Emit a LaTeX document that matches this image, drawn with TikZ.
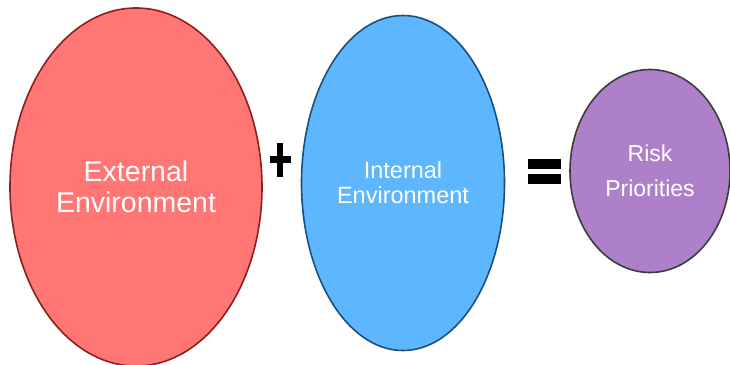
\documentclass[tikz,border=0pt]{standalone}
\usepackage{fontspec}
\setmainfont{Liberation Sans}
\usetikzlibrary{shapes.geometric}
\definecolor{extfill}{HTML}{FF7675}
\definecolor{extline}{HTML}{8E1F1F}
\definecolor{intfill}{HTML}{5EB6FF}
\definecolor{intline}{HTML}{1C4F7C}
\definecolor{riskfill}{HTML}{AD80C9}
\definecolor{riskline}{HTML}{3C3C3C}
\begin{document}
\begin{tikzpicture}[x=1bp,y=-1bp,
  blob/.style={ellipse,draw,line width=1.6bp,inner sep=0pt,text=white,align=center}]
  \useasboundingbox (0,0) rectangle (730,364);
  \node[blob,fill=extfill,draw=extline,minimum width=252bp,minimum height=358bp,
    font=\fontsize{28.5bp}{31bp}\selectfont] (ext) at (136,187) {External\\Environment};
  \node[blob,fill=intfill,draw=intline,minimum width=203bp,minimum height=335bp,
    font=\fontsize{23.5bp}{25bp}\selectfont] (int) at (403,183) {Internal\\Environment};
  \node[blob,fill=riskfill,draw=riskline,minimum width=160bp,minimum height=203bp,
    font=\fontsize{23bp}{35bp}\selectfont] (risk) at (650,171) {Risk\\Priorities};
  % plus and equals
  \fill (270,156) rectangle (291,163);
  \fill (277,143) rectangle (283,177);
  \foreach \y in {159,174} \fill (528,\y) rectangle (561,\y+10);
\end{tikzpicture}
\end{document}
